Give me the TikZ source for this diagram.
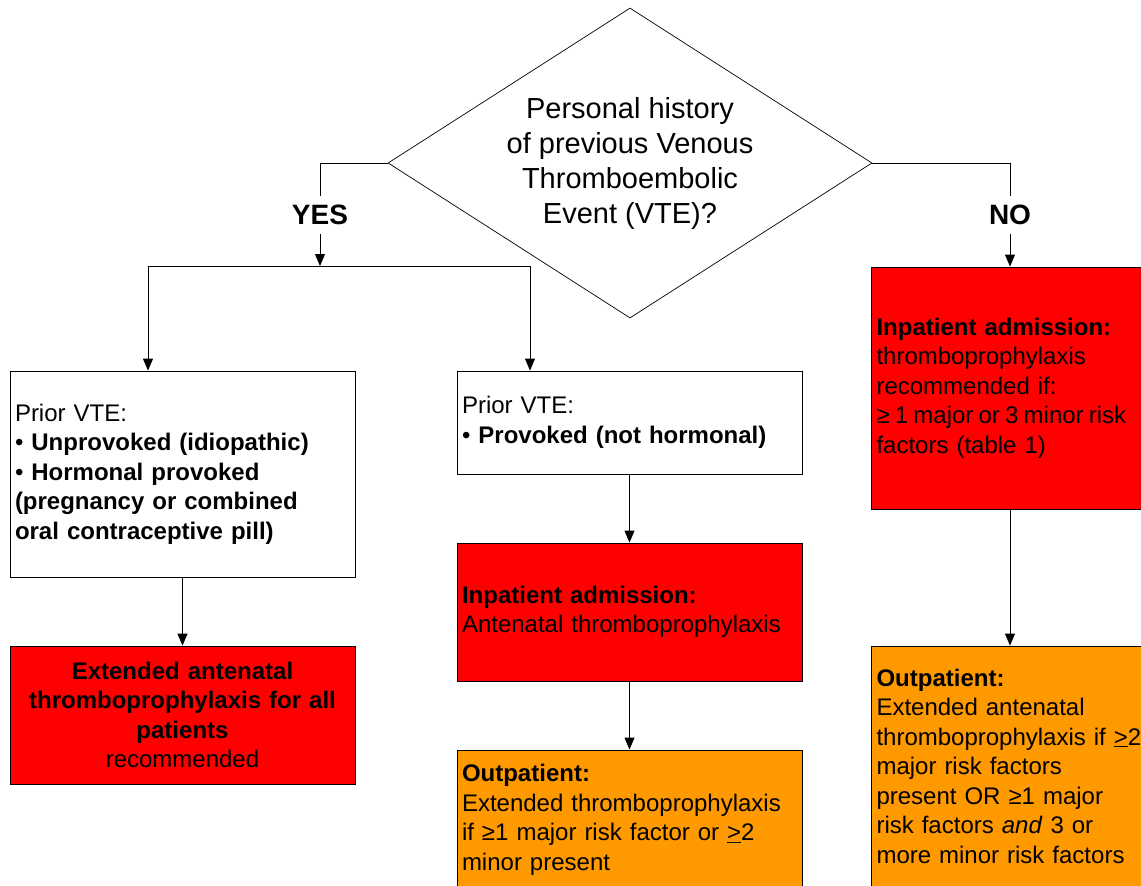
\documentclass[tikz,border=0pt]{standalone}
\usepackage{fontspec}
\setmainfont{Liberation Sans}
\usetikzlibrary{shapes.geometric,arrows.meta}
\definecolor{boxred}{HTML}{FF0000}
\definecolor{boxorange}{HTML}{FF9900}
\begin{document}
\begin{tikzpicture}[x=1pt,y=-1pt,
  box/.style={draw=black, line width=0.9pt, rectangle, inner xsep=5pt, inner ysep=0pt,
    minimum width=345pt, text width=335pt, align=left, font=\fontsize{24}{29.5}\selectfont},
  rbox/.style={box, minimum width=290pt, text width=280pt},
  lbl/.style={inner xsep=4pt, inner ysep=9pt, font=\fontsize{28}{32}\selectfont\bfseries},
  line/.style={draw=black, line width=1pt},
  arr/.style={line, -{Triangle[width=10pt,length=12pt]}}]
\useasboundingbox (0,0) rectangle (1141,886);
\clip (0,0) rectangle (1141,886);
\fill[white] (0,0) rectangle (1141,886);

\node[diamond, draw=black, line width=0.7pt, aspect=1.5613, minimum width=484pt, minimum height=310pt,
  inner sep=0pt, align=center, font=\fontsize{29}{35}\selectfont] (dia) at (630,163)
  {Personal history\\of previous Venous\\Thromboembolic\\Event (VTE)?};

\node[lbl] (yes) at (320,215) {YES};
\node[lbl] (no) at (1010,215) {NO};
\coordinate (jy) at (320,266);
\coordinate (jl) at (148,266);
\coordinate (jr) at (530,266);

\node[box, minimum height=206pt] (b1) at (182.5,474)
  {Prior VTE:\\• \textbf{Unprovoked (idiopathic)}\\• \textbf{Hormonal provoked}\\\textbf{(pregnancy or combined}\\\textbf{oral contraceptive pill)}};
\node[box, minimum height=103pt] (b2) at (629.5,422.5)
  {Prior VTE:\\• \textbf{Provoked (not hormonal)}};
\node[box, minimum height=138pt, fill=boxred] (b3) at (629.5,612)
  {\textbf{Inpatient admission:}\\Antenatal thromboprophylaxis};
\node[box, minimum height=140pt, fill=boxorange] (b4) at (629.5,820)
  {\textbf{Outpatient:}\\Extended thromboprophylaxis\\if ≥1 major risk factor or \underline{>}2\\minor present};
\node[box, minimum height=138pt, fill=boxred, align=center] (b5) at (182.5,715)
  {\textbf{Extended antenatal}\\\textbf{thromboprophylaxis for all}\\\textbf{patients}\\recommended};
\node[rbox, minimum height=242pt, fill=boxred] (b6) at (1016.5,388)
  {\textbf{Inpatient admission:}\\thromboprophylaxis\\recommended if:\\{\spaceskip=5.2pt ≥ 1 major or 3 minor risk}\\factors (table 1)};
\node[rbox, minimum height=240pt, fill=boxorange] (b7) at (1016.5,766)
  {\textbf{Outpatient:}\\Extended antenatal\\thromboprophylaxis if \underline{>}2\\major risk factors\\present OR ≥1 major\\risk factors \textit{and} 3 or\\more minor risk factors};

\draw[line] (dia.west) -| (yes.north);
\draw[arr] (yes.south) -- (jy);
\draw[line] (jl) -- (jr);
\draw[arr] (jl) -- (jl |- b1.north);
\draw[arr] (jr) -- (jr |- b2.north);
\draw[line] (dia.east) -| (no.north);
\draw[arr] (no.south) -- (no.south |- b6.north);
\draw[arr] (b1.south) -- (b5.north);
\draw[arr] (b2.south) -- (b3.north);
\draw[arr] (b3.south) -- (b4.north);
\draw[arr] (no.south |- b6.south) -- (no.south |- b7.north);
\end{tikzpicture}
\end{document}
